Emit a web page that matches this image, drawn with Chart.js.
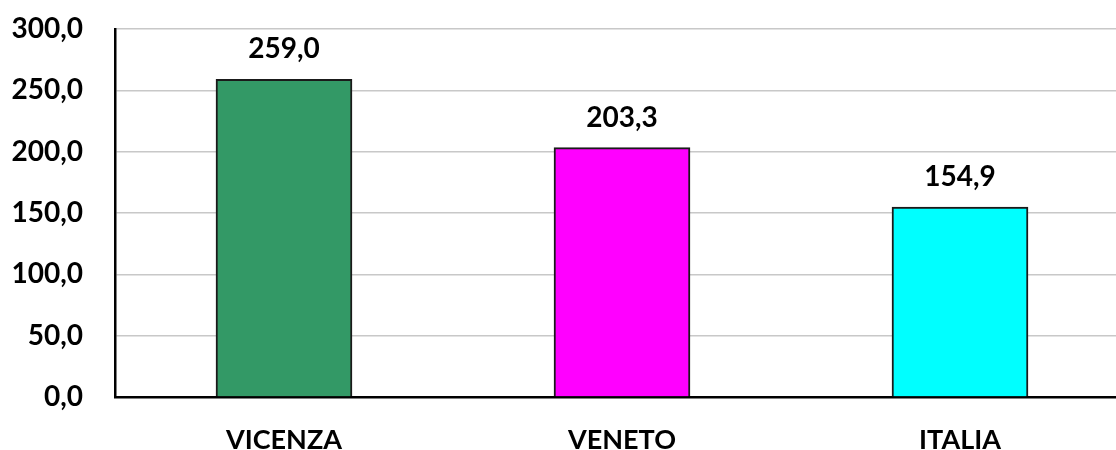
<!DOCTYPE html>
<html>
<head>
<meta charset="utf-8">
<script src="https://cdn.jsdelivr.net/npm/chart.js@4/dist/chart.umd.min.js"></script>
<style>
html,body{margin:0;padding:0;background:#fff;overflow:hidden;width:1116px;height:450px;}
#wrap{position:relative;width:1129px;height:450px;}
</style>
</head>
<body>
<div id="wrap"><canvas id="c" width="1129" height="450"></canvas></div>
<script>
const categories = ["VICENZA", "VENETO", "ITALIA"];
const values = [259.0, 203.3, 154.9];
const barColors = ["#339966", "#FF00FF", "#00FFFF"];
const yTicks = [0, 50, 100, 150, 200, 250, 300];

const fmt = v => v.toFixed(1).replace('.', ',');
const FONT = "Lato, 'Open Sans', sans-serif";

const valueLabels = {
  id: 'valueLabels',
  afterDatasetsDraw(chart) {
    const ctx = chart.ctx;
    const meta = chart.getDatasetMeta(0);
    ctx.save();
    ctx.font = "bold 28px " + FONT;
    ctx.fillStyle = "#000";
    ctx.textAlign = "center";
    ctx.textBaseline = "middle";
    meta.data.forEach((bar, i) => {
      ctx.fillText(fmt(values[i]), bar.x, bar.y - 30);
    });
    ctx.restore();
  }
};

new Chart(document.getElementById('c'), {
  type: 'bar',
  data: {
    labels: categories,
    datasets: [{
      data: values,
      backgroundColor: barColors,
      borderColor: "#1a1a1a",
      borderWidth: 2,
      barThickness: 136
    }]
  },
  options: {
    responsive: false,
    animation: false,
    events: [],
    layout: { padding: { top: 29, right: 0, left: 0, bottom: 0 } },
    plugins: { legend: { display: false }, tooltip: { enabled: false } },
    scales: {
      x: {
        grid: { display: false, drawTicks: false },
        border: { display: true, color: "#000", width: 2.5 },
        ticks: { color: "#000", font: { family: FONT, size: 27, weight: "bold" }, padding: 27, maxRotation: 0 },
        afterFit(s) { s.height = 53; s.paddingLeft = 0; s.paddingRight = 0; }
      },
      y: {
        min: 0, max: 300,
        afterBuildTicks(s) { s.ticks = yTicks.map(v => ({ value: v })); },
        grid: { color: "#c8c8c8", lineWidth: 1.5, drawTicks: false },
        border: { display: true, color: "#000", width: 2.5 },
        ticks: { color: "#000", font: { family: FONT, size: 28, weight: "bold" }, padding: 32, callback: v => fmt(v) },
        afterFit(s) { s.width = 115; s.paddingTop = 0; s.paddingBottom = 0; }
      }
    }
  },
  plugins: [valueLabels]
});
</script>
</body>
</html>
